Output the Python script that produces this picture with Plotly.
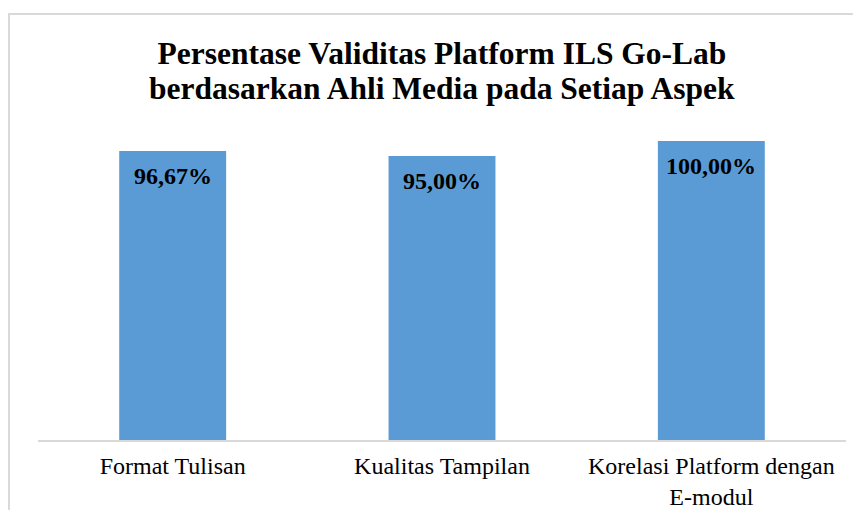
import plotly.graph_objects as go

categories = ["Format Tulisan", "Kualitas Tampilan", "Korelasi Platform dengan<br>E-modul"]
values = [96.67, 95.00, 100.00]
title_line1 = "Persentase Validitas Platform ILS Go-Lab"
title_line2 = "berdasarkan Ahli Media pada Setiap Aspek"

FONT = "Liberation Serif"
# page body has an 8px margin, so the figure is sized to fit the 861x518 window
W, H = 845, 502
L, R, T, B = 30, 7, 133, 70
plot_w = W - L - R
plot_h = H - T - B

labels = [f"{v:.2f}".replace(".", ",") + "%" for v in values]

fig = go.Figure(go.Bar(
    x=categories, y=values,
    marker=dict(color="#5B9BD5", line=dict(width=0)),
    width=0.397,
    hoverinfo="skip",
))

annotations = []
for c, v, t in zip(categories, values, labels):
    annotations.append(dict(
        x=c, y=v, xref="x", yref="y", text=f"<b>{t}</b>", showarrow=False,
        yanchor="middle", xanchor="center", yshift=-25,
        font=dict(family=FONT, size=24, color="black"),
    ))

annotations.append(dict(
    x=0.5, y=(H - B - 81) / plot_h, xref="paper", yref="paper",
    text=f"<b>{title_line2}</b>", showarrow=False, yanchor="middle", xanchor="center",
    font=dict(family=FONT, size=31.5, color="black"),
))

fig.update_layout(
    width=W, height=H,
    margin=dict(l=L, r=R, t=T, b=B, autoexpand=False),
    paper_bgcolor="white", plot_bgcolor="white",
    title=dict(text=f"<b>{title_line1}</b>", x=0.5, xref="paper", xanchor="center",
               y=1 - 45 / H, yref="container", yanchor="middle",
               font=dict(family=FONT, size=31.5, color="black")),
    showlegend=False,
    bargap=0.6,
    xaxis=dict(showline=True, linecolor="#d9d9d9", linewidth=1.5, showgrid=False,
               ticks="", ticklabelstandoff=3, automargin=False,
               tickfont=dict(family=FONT, size=24, color="black"),
               zeroline=False),
    yaxis=dict(range=[0, 100], visible=False, showgrid=False, zeroline=False,
               automargin=False),
    annotations=annotations,
    shapes=[dict(type="rect", xref="paper", yref="paper",
                 x0=(1 - L) / plot_w, x1=(W + 20 - L) / plot_w,
                 y0=-(B + 20) / plot_h, y1=(H - B - 6) / plot_h,
                 line=dict(color="#d9d9d9", width=2), fillcolor="rgba(0,0,0,0)", layer="below")],
)

fig.write_html("out.html")
